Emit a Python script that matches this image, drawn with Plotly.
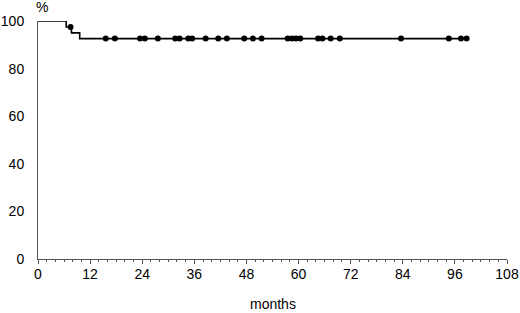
import plotly.graph_objects as go

# Kaplan-Meier steps (months, % surviving)
step_months = [0, 6.5, 7.7, 9.6]
step_survival = [100, 97.5, 95.0, 92.6]
follow_up_end = 98.7

# censored observations (months)
censor_months = [7.5, 15.6, 17.7, 23.5, 24.6, 27.6, 31.6, 32.6, 34.6, 35.5,
                 38.6, 41.5, 43.5, 47.5, 49.5, 51.5, 57.5, 58.5, 59.4, 60.4,
                 64.5, 65.5, 67.4, 69.5, 83.6, 94.6, 97.4, 98.7]

x_ticks = [0, 12, 24, 36, 48, 60, 72, 84, 96, 108]
y_ticks = [0, 20, 40, 60, 80, 100]


def surv_at(t):
    s = step_survival[0]
    for m, v in zip(step_months, step_survival):
        if m <= t:
            s = v
    return s


line_x = step_months + [follow_up_end]
line_y = step_survival + [step_survival[-1]]
censor_y = [surv_at(t) for t in censor_months]

fig = go.Figure()
fig.add_trace(go.Scatter(x=line_x, y=line_y, mode="lines", line_shape="hv",
                         line=dict(color="black", width=1.6), cliponaxis=False,
                         hoverinfo="skip"))
fig.add_trace(go.Scatter(x=censor_months, y=censor_y, mode="markers",
                         marker=dict(color="black", size=6, symbol="circle"),
                         cliponaxis=False))

font = dict(family="Liberation Sans, Arial, sans-serif", size=14, color="black")

fig.update_layout(
    width=520, height=313,
    margin=dict(l=38, r=13, t=21, b=54),
    paper_bgcolor="white", plot_bgcolor="white",
    showlegend=False,
    font=font,
    xaxis=dict(range=[0, 108], tickvals=x_ticks, ticktext=[str(v) for v in x_ticks],
               showgrid=False, zeroline=False, showline=True, linecolor="#555",
               linewidth=1, ticks="outside", ticklen=4, tickcolor="#555",
               minor=dict(dtick=2, ticks="outside", ticklen=2, tickcolor="#555"),
               tickfont=font, ticklabelstandoff=-2, automargin=False),
    yaxis=dict(range=[0, 100], tickvals=y_ticks, ticktext=[str(v) for v in y_ticks],
               showgrid=False, zeroline=False, showline=True, linecolor="#555",
               linewidth=1, ticks="", ticklabelstandoff=10, tickfont=font,
               automargin=False),
    annotations=[
        dict(text="%", xref="x", yref="paper", x=1, y=1.0, yshift=14,
             showarrow=False, font=font, xanchor="center", yanchor="middle"),
        dict(text="months", xref="paper", yref="paper", x=0.5, y=0, yshift=-45,
             showarrow=False, font=font, xanchor="center", yanchor="middle"),
    ],
)

fig.write_html("out.html", post_script="document.body.style.margin='0';",
               config={"displayModeBar": False})
